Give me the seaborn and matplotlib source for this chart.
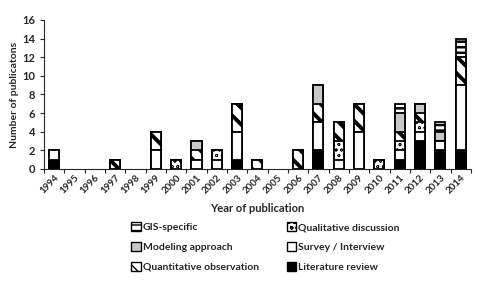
import matplotlib
matplotlib.use("Agg")
import matplotlib.pyplot as plt
import seaborn as sns
import numpy as np
import pandas as pd
from matplotlib.patches import Patch

years = [str(y) for y in range(1994, 2015)]
literature = [1, 0, 0, 0, 0, 0, 0, 0, 0, 1, 0, 0, 0, 2, 0, 0, 0, 1, 3, 2, 2]
survey     = [1, 0, 0, 0, 0, 2, 0, 1, 1, 3, 0, 0, 0, 3, 1, 4, 0, 1, 1, 1, 7]
qualitative= [0, 0, 0, 0, 0, 0, 1, 0, 1, 0, 0, 0, 0, 0, 2, 0, 1, 1, 1, 0, 0]
quantitative=[0, 0, 0, 1, 0, 2, 0, 1, 0, 3, 1, 0, 2, 2, 2, 3, 0, 1, 1, 0, 3]
modeling   = [0, 0, 0, 0, 0, 0, 0, 1, 0, 0, 0, 0, 0, 2, 0, 0, 0, 2, 1, 1, 0]
gis        = [0, 0, 0, 0, 0, 0, 0, 0, 0, 0, 0, 0, 0, 0, 0, 0, 0, 1, 0, 1, 2]

labels_bottom_up = ["Literature review", "Survey / Interview", "Qualitative discussion",
                    "Quantitative observation", "Modeling approach", "GIS-specific"]
series = [literature, survey, qualitative, quantitative, modeling, gis]
styles = {
    "Literature review": dict(color="black", hatch="", hlw=1.0),
    "Survey / Interview": dict(color="white", hatch="", hlw=1.0),
    "Qualitative discussion": dict(color="white", hatch="ooo", hlw=0.5),
    "Quantitative observation": dict(color="white", hatch="\\\\", hlw=2.8),
    "Modeling approach": dict(color="#c8c8c8", hatch="", hlw=1.0),
    "GIS-specific": dict(color="white", hatch="---", hlw=1.8),
}

sns.set_style("ticks")
plt.rcParams["font.family"] = ["Lato", "DejaVu Sans"]
plt.rcParams["hatch.color"] = "black"

fig = plt.figure(figsize=(4.78, 2.98), dpi=100)
ax = fig.add_axes([0.092, 0.433, 0.893, 0.50])

cum = np.cumsum(np.array(series), axis=0)
for i in range(len(series) - 1, -1, -1):
    name = labels_bottom_up[i]
    st = styles[name]
    plt.rcParams["hatch.linewidth"] = st["hlw"]
    df = pd.DataFrame({"year": years, "value": cum[i]})
    n_before = len(ax.patches)
    sns.barplot(data=df, x="year", y="value", ax=ax, color=st["color"],
                hatch=st["hatch"], edgecolor="black", linewidth=1.3,
                width=0.5, saturation=1, errorbar=None)
    for p in ax.patches[n_before:]:
        p.set_facecolor(st["color"])
        if hasattr(p, "set_hatch_linewidth"):
            p.set_hatch_linewidth(st["hlw"])
        if p.get_height() == 0:
            p.remove()

ax.set_ylim(0, 16)
ax.set_yticks(range(0, 17, 2))
ax.set_xlim(-0.5, len(years) - 0.5)
ax.set_xticks(range(len(years)))
ax.set_xticklabels(years, rotation=45, ha="right", rotation_mode="anchor",
                   fontsize=7, fontweight="bold")
ax.tick_params(axis="x", length=0, pad=3)
ax.set_xticks(np.arange(-0.5, len(years), 1), minor=True)
ax.tick_params(axis="x", which="minor", length=3, width=0.8, direction="out")
ax.tick_params(axis="y", labelsize=8, length=3, width=0.8)
for t in ax.get_yticklabels():
    t.set_fontweight("bold")
ax.set_ylabel("Number of publicatons", fontsize=7.5, fontweight="bold", labelpad=2)
ax.set_xlabel("Year of publication", fontsize=8, fontweight="bold", labelpad=5)
sns.despine(ax=ax)
ax.spines["left"].set_linewidth(0.8)
ax.spines["bottom"].set_linewidth(0.8)

order = ["GIS-specific", "Modeling approach", "Quantitative observation",
         "Qualitative discussion", "Survey / Interview", "Literature review"]
handles = []
for n in order:
    plt.rcParams["hatch.linewidth"] = min(styles[n]["hlw"], 1.2)
    handles.append(Patch(facecolor=styles[n]["color"], hatch=styles[n]["hatch"],
                         edgecolor="black", linewidth=1.0, label=n))
fig.legend(handles=handles, ncol=2, loc="upper left", bbox_to_anchor=(0.255, 0.285),
           frameon=False, prop=dict(size=7.5, weight="bold"), handlelength=0.9,
           handleheight=0.9, handletextpad=0.2, columnspacing=2.7, labelspacing=0.95)

fig.savefig("out.png", dpi=100)
